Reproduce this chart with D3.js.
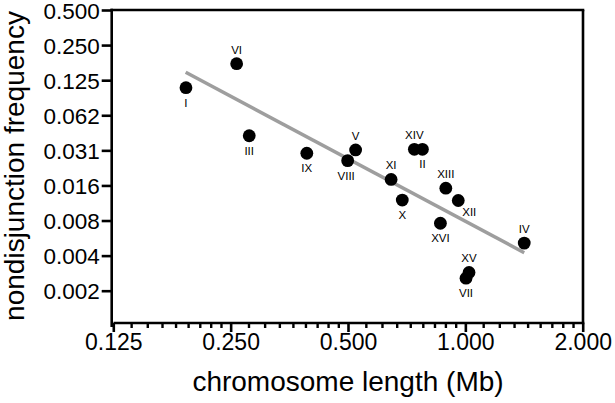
<!DOCTYPE html>
<html>
<head>
<meta charset="utf-8">
<script src="https://cdn.jsdelivr.net/npm/d3@7"></script>
<style>
  html, body { margin: 0; padding: 0; background: #fff; }
  svg { display: block; }
  text { font-family: "Liberation Sans", Arial, Helvetica, sans-serif; fill: #000; }
</style>
</head>
<body>
<svg id="chart" width="615" height="403"></svg>
<script>
// ---- data ----
const chromosomes = ["I","VI","III","IX","VIII","V","XI","X","XIV","II","XVI","XIII","XII","VII","XV","IV"];
const lengthMb    = [0.192,0.259,0.279,0.392,0.499,0.523,0.645,0.689,0.740,0.776,0.863,0.891,0.959,1.004,1.022,1.416];
const ndFrequency = [0.1078,0.1731,0.0417,0.0295,0.0255,0.0315,0.0176,0.0117,0.0319,0.0319,0.0074,0.0148,0.0116,0.0025,0.0028,0.0050];
const fitLength   = [0.1917, 1.416];
const fitFreq     = [0.1461, 0.00414];
const xTickValues = [0.125, 0.25, 0.5, 1, 2];
const xTickLabels = ["0.125","0.250","0.500","1.000","2.000"];
const yTickValues = [0.5, 0.25, 0.125, 0.0625, 0.03125, 0.015625, 0.0078125, 0.00390625, 0.001953125];
const yTickLabels = ["0.500","0.250","0.125","0.062","0.031","0.016","0.008","0.004","0.002"];
const xTitle = "chromosome length (Mb)";
const yTitle = "nondisjunction frequency";

// ---- layout ----
const L = 111.7, T = 10, R = 583, B = 323;
const svg = d3.select("#chart");

const x = d3.scaleLog().base(2).domain([0.125, 2]).range([113.3, 582.7]);
const y = d3.scaleLog().base(2).domain([0.001953125, 0.5]).range([290.7, 10]);

// minor x ticks: 8 evenly spaced between each pair of majors
const xMinor = [];
for (let i = 0; i < xTickValues.length - 1; i++) {
  const a = xTickValues[i], b = xTickValues[i + 1];
  for (let k = 1; k <= 8; k++) xMinor.push(a + (b - a) * k / 9);
}

// frame lines
const frame = svg.append("g").attr("stroke", "#000").attr("stroke-width", 2.6).attr("fill", "none");
frame.append("line").attr("x1", L).attr("x2", L).attr("y1", T - 1.3).attr("y2", B + 4);
frame.append("line").attr("x1", L - 1.3).attr("x2", R + 1.3).attr("y1", T).attr("y2", T);
frame.append("line").attr("x1", R).attr("x2", R).attr("y1", T).attr("y2", B);
frame.append("line").attr("x1", 113.5).attr("x2", R + 1.3).attr("y1", B).attr("y2", B);

// x axis major ticks
const xAxis = d3.axisBottom(x).tickValues(xTickValues).tickSize(9).tickSizeOuter(0)
  .tickFormat((d, i) => xTickLabels[i]).tickPadding(7);
const gx = svg.append("g").attr("transform", `translate(0,${B})`).call(xAxis);
gx.select(".domain").remove();
gx.selectAll(".tick line").attr("stroke", "#000").attr("stroke-width", 2.6);
gx.selectAll(".tick text").attr("font-size", 23).attr("dy", "0.71em").attr("y", 11);

// x axis minor ticks
const gxm = svg.append("g").attr("transform", `translate(0,${B})`)
  .call(d3.axisBottom(x).tickValues(xMinor).tickSize(5).tickSizeOuter(0).tickFormat(""));
gxm.select(".domain").remove();
gxm.selectAll(".tick line").attr("stroke", "#000").attr("stroke-width", 2.4);

// y axis
const yAxis = d3.axisLeft(y).tickValues(yTickValues).tickSize(10).tickSizeOuter(0)
  .tickFormat((d, i) => yTickLabels[i]).tickPadding(2);
const gy = svg.append("g").attr("transform", `translate(${L},0)`).call(yAxis);
gy.select(".domain").remove();
gy.selectAll(".tick line").attr("stroke", "#000").attr("stroke-width", 2.6);
gy.selectAll(".tick text").attr("font-size", 22.5).attr("dy", "0.36em");

// regression line
svg.append("line")
  .attr("x1", x(fitLength[0])).attr("y1", y(fitFreq[0]))
  .attr("x2", x(fitLength[1])).attr("y2", y(fitFreq[1]))
  .attr("stroke", "#9e9e9e").attr("stroke-width", 3.5);

// points
const data = chromosomes.map((c, i) => ({ c, len: lengthMb[i], f: ndFrequency[i] }));
svg.append("g").selectAll("circle").data(data).join("circle")
  .attr("cx", d => x(d.len)).attr("cy", d => y(d.f)).attr("r", 6.4).attr("fill", "#000");

// labels
const above = new Set(["VI","V","XI","XIV","XIII","IV","XV"]);
svg.append("g").selectAll("text").data(data).join("text")
  .attr("font-size", 11.5)
  .attr("text-anchor", "middle")
  .attr("x", d => x(d.len) + (d.c === "XII" ? 11 : 0) + (d.c === "VIII" ? -1.5 : 0))
  .attr("y", d => y(d.f) + (above.has(d.c) ? -10 : (d.c === "XII" ? 15.5 : 19)))
  .text(d => d.c);

// axis titles
svg.append("text").attr("x", 348).attr("y", 391).attr("text-anchor", "middle")
  .attr("font-size", 28).text(xTitle);
svg.append("text").attr("transform", "translate(24,166) rotate(-90)")
  .attr("text-anchor", "middle").attr("font-size", 28).text(yTitle);
</script>
</body>
</html>
